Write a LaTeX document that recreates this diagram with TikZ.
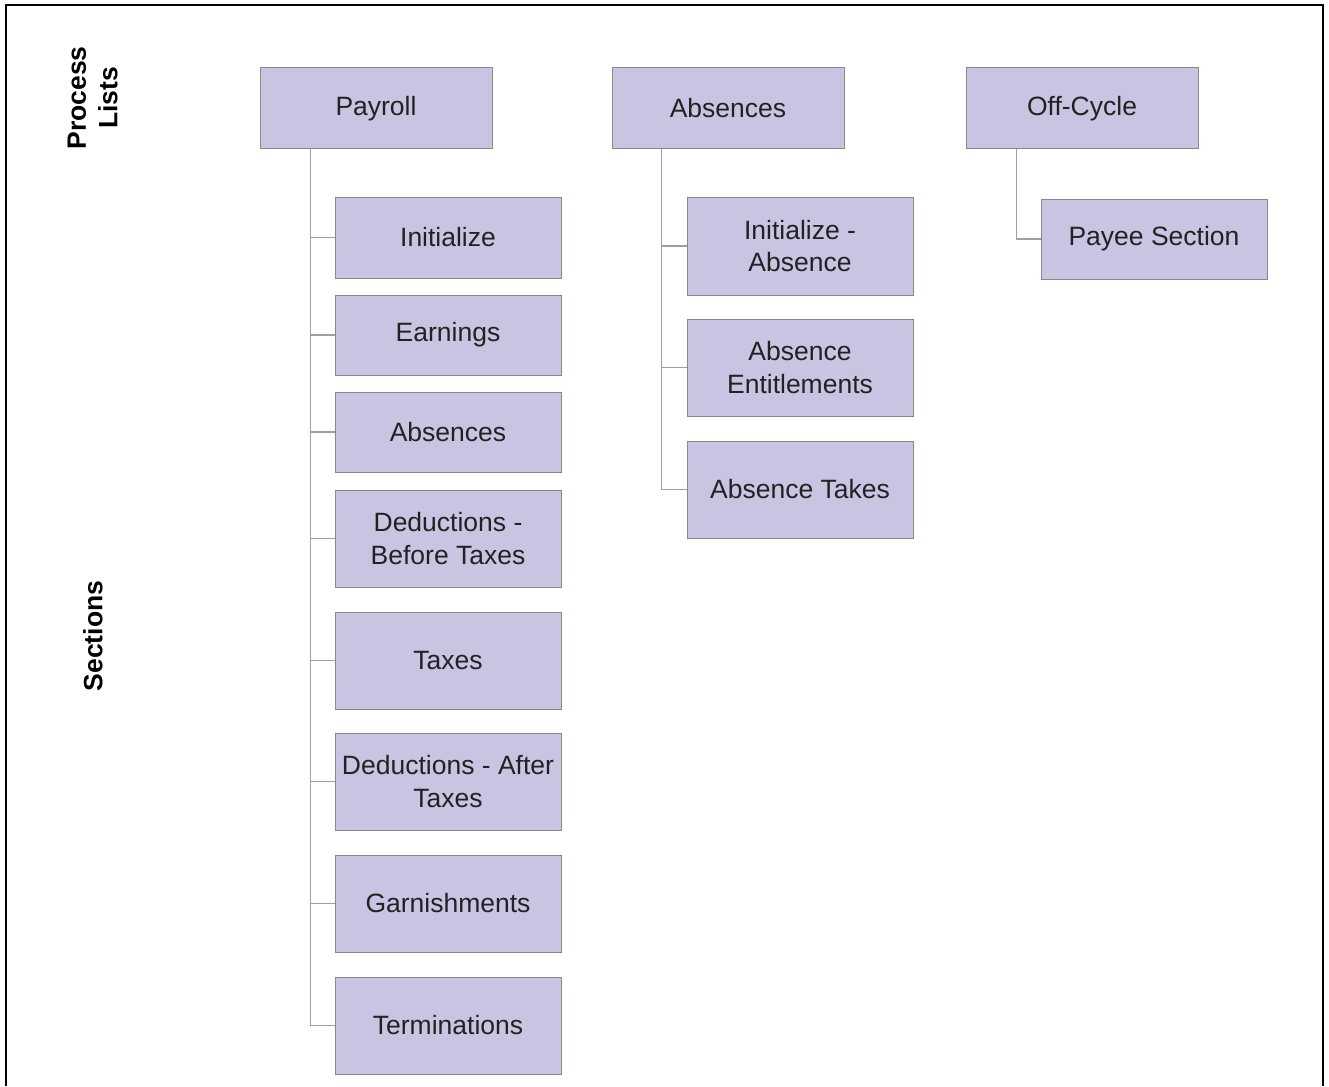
\documentclass[tikz,border=0pt]{standalone}
\usepackage{fontspec}
\setmainfont{Liberation Sans}
\begin{document}
\begin{tikzpicture}[x=1pt,y=-1pt,
  box/.style={draw=boxline,fill=boxfill,line width=1pt,inner sep=0pt,align=center,text=txt,font=\fontsize{26.5}{32.5}\selectfont},
  conn/.style={draw=connline,line width=1.3pt},
  side/.style={text=black,font=\bfseries\fontsize{26.5}{31}\selectfont,rotate=90,inner sep=0pt}]
\definecolor{boxfill}{HTML}{C8C5E2}
\definecolor{boxline}{HTML}{888888}
\definecolor{connline}{HTML}{A0A0A0}
\definecolor{txt}{HTML}{222222}
\useasboundingbox (0,0) rectangle (1329,1086);
\draw[line width=2.6pt] (6,1086) -- (6,5) -- (1323,5) -- (1323,1086);
% side labels
\node[side] (plA) at (77,98) {Process};
\node[side] (plB) at (108,98) {Lists};
\node[side] (sec) at (93,636) {Sections};
% macro for boxes by corner coordinates
\newcommand{\bx}[6]{\node[box,minimum width={#3-#2},minimum height={#5-#4}] (#1) at ({(#2+#3)/2},{(#4+#5)/2}) {#6};}
\bx{payroll}{260}{492}{68}{149}{Payroll}
\bx{absences}{612}{844}{68}{149}{Absences}
\bx{offcycle}{966}{1198}{68}{149}{Off-Cycle}
\bx{init}{335}{561}{197}{278}{Initialize}
\bx{earn}{335}{561}{295}{375}{Earnings}
\bx{abs}{335}{561}{392}{472}{Absences}
\bx{dbt}{335}{561}{490}{587}{Deductions -\\Before Taxes}
\bx{tax}{335}{561}{612}{709}{Taxes}
\bx{dat}{335}{561}{733}{830}{Deductions - After\\Taxes}
\bx{garn}{335}{561}{855}{952}{Garnishments}
\bx{term}{335}{561}{977}{1074}{Terminations}
\bx{iabs}{687}{913}{197}{295}{Initialize -\\Absence}
\bx{aent}{687}{913}{319}{416}{Absence\\Entitlements}
\bx{atak}{687}{913}{441}{538}{Absence Takes}
\bx{payee}{1041}{1267}{199}{279}{Payee Section}
% connectors
\foreach \c in {init,earn,abs,dbt,tax,dat,garn,term}
  \draw[conn] (payroll.south west) ++(51,0) |- (\c.west);
\foreach \c in {iabs,aent,atak}
  \draw[conn] (absences.south west) ++(50,0) |- (\c.west);
\draw[conn] (offcycle.south west) ++(51,0) |- (payee.west);
\end{tikzpicture}
\end{document}
